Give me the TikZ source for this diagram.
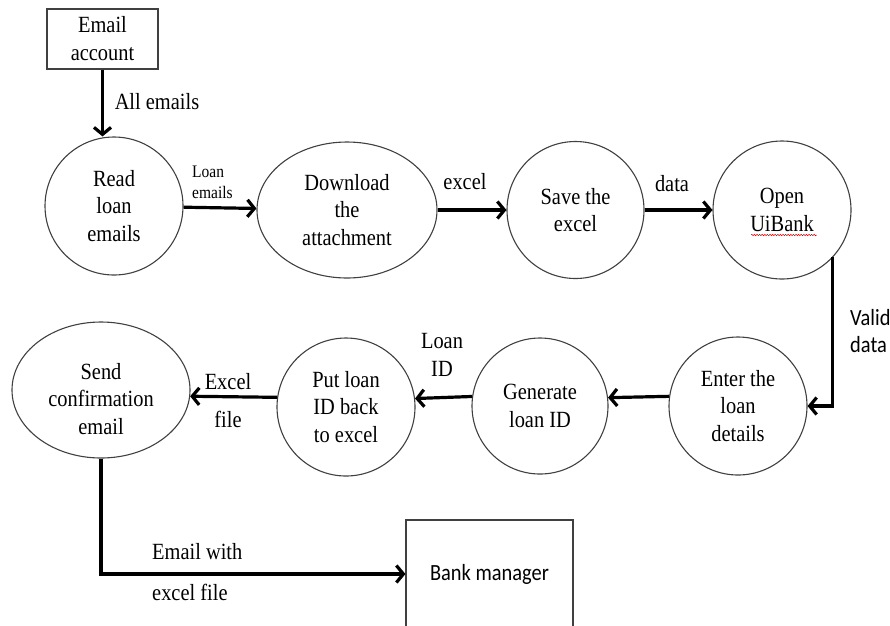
\documentclass[tikz,border=0pt]{standalone}
\usepackage{fontspec}
\setmainfont{Liberation Serif}[FakeStretch=0.88]
\newfontfamily\calfont{Carlito}[FakeStretch=0.88]
\usetikzlibrary{arrows.meta,shapes.geometric,decorations.pathmorphing}
\begin{document}
\begin{tikzpicture}[x=1pt,y=-1pt,
  every node/.style={font=\fontsize{23.2}{27.5}\selectfont},
  proc/.style={circle, draw=black!75, line width=1.1pt, inner sep=0pt, align=center, minimum size=#1},
  oval/.style={ellipse, draw=black!75, line width=1.1pt, inner sep=0pt, align=center},
  boxx/.style={rectangle, draw=black!75, line width=1.1pt, inner sep=0pt, align=center},
  lbl/.style={align=center, inner sep=0pt},
  arr/.style={line width=3.2pt, -{Straight Barb[length=7pt,width=17pt]}},
]
\useasboundingbox (0,0) rectangle (890,625);
\clip (0,0) rectangle (890,625);

% boxes
\node[boxx, minimum width=111, minimum height=60, font=\fontsize{23.2}{28}\selectfont] (email) at (102.5,39) {Email\\account};
\node[boxx, minimum width=167, minimum height=108, font=\calfont\fontsize{23.2}{26}\selectfont] (bank) at (489.5,574) {Bank manager};

% processes, top row
\node[proc=138] (read) at (114,206) {Read\\loan\\emails};
\node[oval, minimum width=180, minimum height=136] (down) at (347,210) {Download\\the\\attachment};
\node[proc=137] (save) at (575.5,210) {Save the\\excel};
\node[proc=138] (open) at (782,210) {Open\\UiBank};

% processes, bottom row
\node[proc=138] (enter) at (738,406) {Enter the\\loan\\details};
\node[proc=136] (gen) at (540,406) {Generate\\loan ID};
\node[proc=138] (put) at (346,407) {Put loan\\ID back\\to excel};
\node[oval, minimum width=178, minimum height=136,
  label={[lbl,yshift=-9pt]center:Send\\confirmation\\email}] (send) at (101,390) {};

% spell-check underline
\draw[red!85!black, line width=0.5pt, decorate, decoration={snake, amplitude=0.7pt, segment length=2.6pt}] (751,235) -- (817,235);

% connectors
\draw[arr] (email.south) -- (email.south |- read.north);
\draw[arr] (read) -- (down);
\draw[arr] (down) -- (save);
\draw[arr] (save) -- (open);
\draw[arr] (open.-43.6) |- (enter.east);
\draw[arr] (enter.172.5) -- (gen.7.5);
\draw[arr] (gen.172.5) -- (put.7.5);
\draw[arr] (put.172) -- (send.-4.5);
\draw[arr] (send.south) |- (bank.west);

% labels
\node[lbl] (lAll) at (157,102) {All emails};
\node[lbl, anchor=west, align=left, font=\fontsize{17.6}{21}\selectfont] (lLoanEm) at (192,182) {Loan\\emails};
\node[lbl] (lExcel) at (465,182) {excel};
\node[lbl] (lData) at (672,184) {data};
\node[lbl, anchor=west, align=left, font=\calfont\fontsize{23.2}{27}\selectfont] (lValid) at (850,331) {Valid\\data};
\node[lbl] (lLoanID) at (442,355) {Loan\\ID};
\node[lbl, font=\fontsize{23.2}{38}\selectfont] (lExcelFile) at (228,401) {Excel\\file};
\node[lbl, anchor=west, align=left, font=\fontsize{23.2}{41}\selectfont] (lEmailWith) at (152,572) {Email with\\excel file};
\end{tikzpicture}
\end{document}
